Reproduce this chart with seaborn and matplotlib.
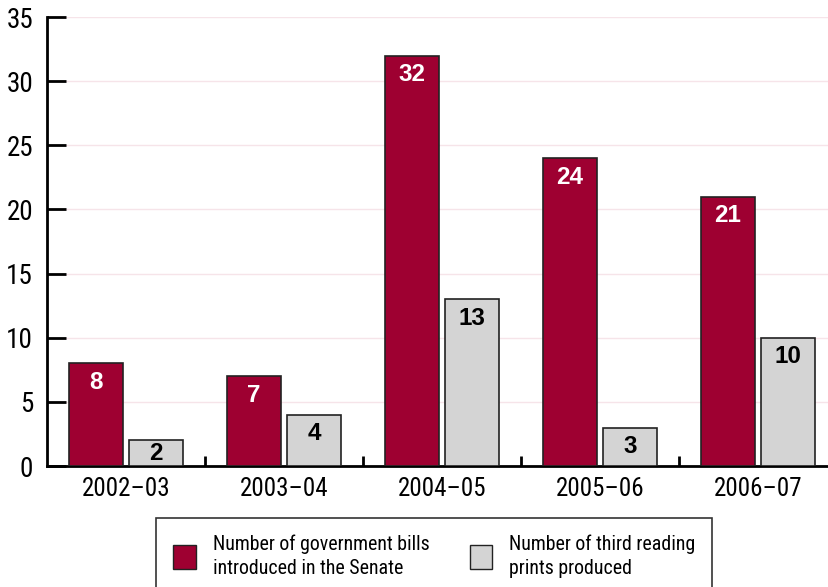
import matplotlib
matplotlib.use("Agg")
import matplotlib.pyplot as plt
import matplotlib.patches as mpatches
from matplotlib.ticker import FixedLocator
import seaborn as sns
import pandas as pd

years = ["2002–03", "2003–04", "2004–05", "2005–06", "2006–07"]
bills_introduced = [8, 7, 32, 24, 21]
third_reading_prints = [2, 4, 13, 3, 10]
series_names = ["Number of government bills\nintroduced in the Senate",
                "Number of third reading\nprints produced"]
y_ticks = [0, 5, 10, 15, 20, 25, 30, 35]

RED = "#9E0031"
GREY = "#D4D4D4"
EDGE = "#222222"

df = pd.DataFrame({
    "year": years * 2,
    "count": bills_introduced + third_reading_prints,
    "series": [series_names[0]] * len(years) + [series_names[1]] * len(years),
})

sns.set_theme(style="white")
plt.rcParams["font.family"] = ["Roboto Condensed", "Liberation Sans", "DejaVu Sans"]

fig = plt.figure(figsize=(8.29, 5.87), dpi=100)
ax = fig.add_axes([0.0567, 0.206, 0.9433, 0.765])

sns.barplot(data=df, x="year", y="count", hue="series", order=years,
            hue_order=series_names, palette=[RED, GREY], width=0.76, gap=0.1,
            edgecolor=EDGE, linewidth=1.2, saturation=1, legend=False,
            ax=ax, zorder=3)

ax.set_xlim(-0.5, 4.45)
ax.set_ylim(0, 35)
ax.set_xlabel("")
ax.set_ylabel("")

# value labels inside the tops of the bars
px_per_unit = ax.transData.transform((0, 1))[1] - ax.transData.transform((0, 0))[1]
for container, colour in zip(ax.containers, ["white", "black"]):
    for bar in container:
        h = bar.get_height()
        offset_px = min(19, h * px_per_unit / 2)
        ax.annotate(f"{int(h)}", (bar.get_x() + bar.get_width() / 2, h),
                    xytext=(0, -offset_px * 72 / fig.dpi), textcoords="offset points",
                    ha="center", va="center", fontsize=17.5, fontweight="bold",
                    color=colour, family=["Liberation Sans", "DejaVu Sans"], zorder=4)

# faint horizontal grid, kept beneath the tick marks
ax.set_yticks(y_ticks)
for y in y_ticks[1:]:
    ax.axhline(y, color="#F6E4E9", lw=1, zorder=0.2)

for side in ["top", "right"]:
    ax.spines[side].set_visible(False)
for side in ["left", "bottom"]:
    ax.spines[side].set_color("black")
    ax.spines[side].set_linewidth(2)

ax.tick_params(axis="y", direction="in", length=14, width=2, color="black",
               labelsize=19.5, labelcolor="black", pad=10, left=True)
ax.tick_params(axis="x", which="major", length=0, labelsize=18,
               labelcolor="black", pad=8)
ax.xaxis.set_minor_locator(FixedLocator([0.5, 1.5, 2.5, 3.5]))
ax.tick_params(axis="x", which="minor", direction="in", length=7, width=2,
               color="black", bottom=True)

handles = [mpatches.Patch(facecolor=RED, edgecolor=EDGE, lw=1),
           mpatches.Patch(facecolor=GREY, edgecolor=EDGE, lw=1)]
leg = fig.legend(handles, series_names, loc="upper center",
                 bbox_to_anchor=(0.524, 0.118), ncol=2, frameon=True,
                 fancybox=False, fontsize=14.3, handlelength=1.15, handleheight=1.45,
                 handletextpad=0.85, columnspacing=2.0, borderpad=0.85,
                 borderaxespad=0, labelcolor="black")
for t in leg.get_texts():
    t.set_linespacing(1.3)
leg.get_frame().set_edgecolor("black")
leg.get_frame().set_linewidth(1.2)

fig.savefig("out.png", dpi=100)
